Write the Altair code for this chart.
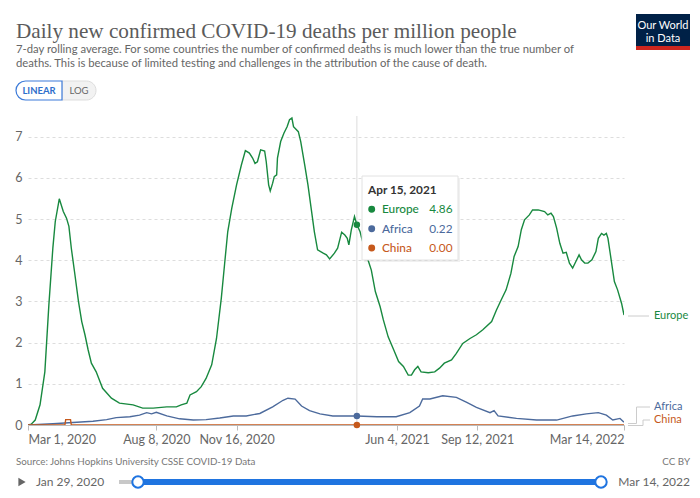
import altair as alt
import pandas as pd

# ---------------- data ----------------
series_names = ["Europe", "Africa", "China"]
series_colors = ["#18893f", "#4c6a9c", "#c6591c"]

europe_dates = ["2020-03-01", "2020-03-05", "2020-03-10", "2020-03-16", "2020-03-22", "2020-03-27", "2020-04-01", "2020-04-04", "2020-04-09", "2020-04-14", "2020-04-18", "2020-04-21", "2020-04-24", "2020-04-28", "2020-05-03", "2020-05-07", "2020-05-11", "2020-05-15", "2020-05-19", "2020-05-25", "2020-06-02", "2020-06-13", "2020-06-23", "2020-07-10", "2020-07-22", "2020-08-04", "2020-08-21", "2020-09-02", "2020-09-08", "2020-09-15", "2020-09-19", "2020-09-27", "2020-10-03", "2020-10-09", "2020-10-16", "2020-10-22", "2020-10-28", "2020-11-01", "2020-11-05", "2020-11-10", "2020-11-16", "2020-11-22", "2020-11-27", "2020-12-02", "2020-12-06", "2020-12-09", "2020-12-12", "2020-12-16", "2020-12-21", "2020-12-23", "2020-12-26", "2020-12-28", "2020-12-31", "2021-01-02", "2021-01-05", "2021-01-06", "2021-01-10", "2021-01-14", "2021-01-18", "2021-01-21", "2021-01-24", "2021-01-26", "2021-02-01", "2021-02-04", "2021-02-09", "2021-02-13", "2021-02-17", "2021-02-21", "2021-02-25", "2021-03-04", "2021-03-08", "2021-03-12", "2021-03-18", "2021-03-22", "2021-03-27", "2021-03-31", "2021-04-03", "2021-04-05", "2021-04-08", "2021-04-12", "2021-04-15", "2021-04-19", "2021-04-21", "2021-04-29", "2021-05-03", "2021-05-08", "2021-05-14", "2021-05-18", "2021-05-24", "2021-05-31", "2021-06-06", "2021-06-12", "2021-06-18", "2021-06-22", "2021-06-26", "2021-06-30", "2021-07-04", "2021-07-13", "2021-07-21", "2021-07-27", "2021-08-02", "2021-08-11", "2021-08-17", "2021-08-25", "2021-09-03", "2021-09-11", "2021-09-19", "2021-09-30", "2021-10-06", "2021-10-12", "2021-10-18", "2021-10-24", "2021-10-28", "2021-11-02", "2021-11-06", "2021-11-10", "2021-11-16", "2021-11-20", "2021-11-27", "2021-12-05", "2021-12-09", "2021-12-13", "2021-12-16", "2021-12-20", "2021-12-24", "2021-12-28", "2022-01-01", "2022-01-05", "2022-01-09", "2022-01-13", "2022-01-17", "2022-01-20", "2022-01-24", "2022-01-28", "2022-02-02", "2022-02-07", "2022-02-10", "2022-02-14", "2022-02-17", "2022-02-20", "2022-02-22", "2022-02-26", "2022-03-02", "2022-03-06", "2022-03-11", "2022-03-14"]
europe_values = [0.0, 0.02, 0.12, 0.49, 1.29, 2.91, 4.30, 4.94, 5.49, 5.18, 5.02, 4.82, 4.29, 3.72, 2.99, 2.51, 2.19, 1.82, 1.50, 1.29, 0.89, 0.65, 0.53, 0.49, 0.41, 0.41, 0.44, 0.44, 0.49, 0.53, 0.73, 0.81, 0.93, 1.13, 1.46, 2.10, 3.08, 3.89, 4.69, 5.26, 5.83, 6.31, 6.66, 6.60, 6.48, 6.35, 6.39, 6.68, 6.65, 6.39, 5.83, 5.68, 5.87, 6.03, 6.07, 6.48, 6.88, 7.08, 7.24, 7.41, 7.45, 7.24, 7.12, 6.88, 6.31, 5.83, 5.26, 4.69, 4.25, 4.17, 4.13, 4.03, 4.17, 4.29, 4.68, 4.61, 4.53, 4.37, 4.73, 5.06, 4.86, 4.69, 4.53, 4.00, 3.76, 3.24, 2.87, 2.55, 2.14, 1.82, 1.54, 1.42, 1.21, 1.21, 1.34, 1.42, 1.29, 1.27, 1.29, 1.38, 1.50, 1.58, 1.74, 1.98, 2.10, 2.19, 2.31, 2.51, 2.79, 3.04, 3.28, 3.68, 4.09, 4.33, 4.74, 4.98, 5.10, 5.22, 5.22, 5.18, 5.10, 5.14, 5.06, 4.78, 4.41, 4.17, 4.19, 3.93, 3.81, 3.97, 4.13, 4.01, 3.93, 3.93, 4.01, 4.21, 4.53, 4.65, 4.61, 4.65, 4.53, 4.01, 3.48, 3.28, 2.95, 2.67]

africa_dates = ["2020-03-01", "2020-04-01", "2020-04-26", "2020-05-21", "2020-06-07", "2020-06-19", "2020-07-06", "2020-07-18", "2020-07-27", "2020-08-02", "2020-08-08", "2020-08-21", "2020-09-06", "2020-09-23", "2020-10-09", "2020-10-26", "2020-11-12", "2020-11-28", "2020-12-15", "2020-12-31", "2021-01-13", "2021-01-19", "2021-01-28", "2021-02-05", "2021-02-15", "2021-02-28", "2021-03-16", "2021-04-15", "2021-05-10", "2021-06-03", "2021-06-20", "2021-07-02", "2021-07-06", "2021-07-15", "2021-07-31", "2021-08-17", "2021-08-30", "2021-09-11", "2021-09-28", "2021-10-03", "2021-10-08", "2021-10-31", "2021-11-25", "2021-12-20", "2022-01-09", "2022-01-26", "2022-02-10", "2022-02-20", "2022-02-28", "2022-03-09", "2022-03-14"]
africa_values = [0.0, 0.03, 0.06, 0.09, 0.13, 0.18, 0.20, 0.24, 0.30, 0.27, 0.31, 0.22, 0.15, 0.12, 0.13, 0.17, 0.22, 0.22, 0.28, 0.44, 0.60, 0.65, 0.63, 0.46, 0.35, 0.27, 0.22, 0.22, 0.20, 0.20, 0.30, 0.46, 0.63, 0.63, 0.71, 0.67, 0.55, 0.43, 0.30, 0.35, 0.22, 0.16, 0.12, 0.12, 0.22, 0.27, 0.30, 0.24, 0.12, 0.16, 0.07]

china_dates = ["2020-03-01", "2020-04-16", "2020-04-17", "2020-04-23", "2020-04-24", "2022-03-14"]
china_values = [0.0, 0.0, 0.13, 0.13, 0.0, 0.0]

tick_dates = [(2020, 3, 1), (2020, 8, 8), (2020, 11, 16), (2021, 6, 4), (2021, 9, 12), (2022, 3, 14)]
y_ticks = [0, 1, 2, 3, 4, 5, 6, 7]
domain_start = (2020, 3, 1)
domain_end = (2022, 3, 14)

hover_date = "2021-04-15"
hover_label = "Apr 15, 2021"
hover_values = [4.86, 0.22, 0.00]

title_text = "Daily new confirmed COVID-19 deaths per million people"
subtitle_lines = [
    "7-day rolling average. For some countries the number of confirmed deaths is much lower than the true number of",
    "deaths. This is because of limited testing and challenges in the attribution of the cause of death.",
]
source_text = "Source: Johns Hopkins University CSSE COVID-19 Data"
slider_start_label = "Jan 29, 2020"
slider_end_label = "Mar 14, 2022"

# ---------------- build tables ----------------
frames = []
for name, d, v in [("Europe", europe_dates, europe_values),
                   ("Africa", africa_dates, africa_values),
                   ("China", china_dates, china_values)]:
    frames.append(pd.DataFrame({"date": d, "value": v, "series": name}))
df = pd.concat(frames, ignore_index=True)
order_map = {n: i for i, n in enumerate(series_names)}
df["order"] = df["series"].map(order_map)

hover_df = pd.DataFrame({"date": [hover_date] * 3, "value": hover_values, "series": series_names})

def dt(t):
    return alt.DateTime(year=t[0], month=t[1], date=t[2], utc=True)

W, H = 596, 309
FONT = "Lato"

xscale = alt.Scale(type="utc", domain=[dt(domain_start), dt(domain_end)])
yscale = alt.Scale(domain=[0, 7.5], nice=False)
cscale = alt.Scale(domain=series_names, range=series_colors)

x_axis = alt.Axis(values=[dt(t) for t in tick_dates],
                  labelExpr="utcFormat(datum.value, '%b %-d, %Y')",
                  labelFlush=True, labelOverlap=False, grid=False,
                  domain=True, domainColor="#bbbbbb", tickColor="#bbbbbb",
                  tickSize=5, labelPadding=3, labelFontSize=12.5,
                  labelColor="#666666", labelFont=FONT, title=None)
y_axis = alt.Axis(values=y_ticks, grid=True, gridDash=[3, 3], gridColor="#dddddd",
                  domain=False, ticks=False, labelFontSize=12.5, labelColor="#666666",
                  labelFont=FONT, labelPadding=6, title=None)

hover_rule = alt.Chart(pd.DataFrame({"date": [hover_date]})).mark_rule(
    color="#dcdcdc", strokeWidth=1).encode(x=alt.X("date:T", scale=xscale, axis=x_axis))

lines = alt.Chart(df).mark_line(strokeWidth=1.4, clip=True).encode(
    x=alt.X("date:T", scale=xscale, axis=x_axis),
    y=alt.Y("value:Q", scale=yscale, axis=y_axis),
    color=alt.Color("series:N", scale=cscale, legend=None),
    detail="series:N",
    order="order:Q",
)

hover_pts = alt.Chart(hover_df).mark_circle(size=42, opacity=1).encode(
    x=alt.X("date:T", scale=xscale),
    y=alt.Y("value:Q", scale=yscale),
    color=alt.Color("series:N", scale=cscale, legend=None),
)

one = alt.Data(values=[{}])

def text(s, x, y, size=12, color="#666666", weight="normal", align="left",
         baseline="alphabetic", font=FONT):
    return alt.Chart(one).mark_text(text=s, fontSize=size, color=color, fontWeight=weight,
                                    align=align, baseline=baseline, font=font).encode(
        x=alt.value(x), y=alt.value(y))

def rect(x, x2, y, y2, fill, stroke=None, sw=0, **kw):
    props = dict(fill=fill, strokeWidth=sw)
    if stroke:
        props["stroke"] = stroke
    props.update(kw)
    return alt.Chart(one).mark_rect(**props).encode(
        x=alt.value(x), x2=alt.value(x2), y=alt.value(y), y2=alt.value(y2))

def rule(x, x2, y, y2, color="#cccccc", sw=1, **kw):
    return alt.Chart(one).mark_rule(color=color, strokeWidth=sw, **kw).encode(
        x=alt.value(x), x2=alt.value(x2), y=alt.value(y), y2=alt.value(y2))

def dot(x, y, size, fill, stroke=None, sw=0, shape="circle"):
    props = dict(shape=shape, filled=True, fill=fill, size=size, opacity=1, strokeWidth=sw)
    if stroke:
        props["stroke"] = stroke
    return alt.Chart(one).mark_point(**props).encode(x=alt.value(x), y=alt.value(y))

# coordinates relative to the plot origin (plot left = page x 28, top = page y 116)
deco = [
    # header
    text(title_text, -12, -78, size=21.2, color="#5b5b5b", font="Liberation Serif"),
    text(subtitle_lines[0], -12, -63, size=11.3, color="#666666"),
    text(subtitle_lines[1], -12, -49, size=11.3, color="#666666"),
    # logo
    rect(608, 662, -102, -66, "#002147"),
    rect(608, 662, -70, -66, "#ce261e"),
    text("Our World", 635, -90, size=11, color="#ffffff", align="center", baseline="middle"),
    text("in Data", 635, -77, size=11, color="#ffffff", align="center", baseline="middle"),
    # linear / log buttons
    rect(34, 68, -35, -16, "#f2f2f2", stroke="#dddddd", sw=1,
         cornerRadiusTopRight=10, cornerRadiusBottomRight=10),
    rect(-12, 34, -35, -16, "#ffffff", stroke="#3d7bd9", sw=1.2,
         cornerRadiusTopLeft=10, cornerRadiusBottomLeft=10),
    text("LINEAR", 11, -25.5, size=9.5, color="#2f6fcb", weight="bold", align="center", baseline="middle"),
    text("LOG", 51, -25.5, size=9.5, color="#666666", align="center", baseline="middle"),
]

tooltip = [
    rect(336, 432, 62, 146, "#000000", opacity=0.06),
    rect(334, 430, 60, 144, "#ffffff", stroke="#e2e2e2", sw=1),
    text(hover_label, 340, 78, size=11.8, color="#333333", weight="bold"),
]
row_y = [93.3, 112.7, 132]
for name, col, val, ry in zip(series_names, series_colors, hover_values, row_y):
    tooltip += [
        dot(343.7, ry, 48, col),
        text(name, 354, ry, size=11.8, color=col, baseline="middle", weight=500),
        text(f"{val:.2f}", 424.5, ry, size=11.8, color=col, align="right", baseline="middle"),
    ]

labels = [
    rule(600, 621, 200, 200),
    text("Europe", 626, 200, size=11, color=series_colors[0], baseline="middle"),
    rule(600, 608.5, 307.5, 307.5),
    rule(608.5, 608.5, 291, 307.5),
    rule(608.5, 622, 291, 291),
    text("Africa", 626, 291, size=11, color=series_colors[1], baseline="middle"),
    rule(600, 615, 309.5, 309.5),
    rule(615, 615, 304, 309.5),
    rule(615, 622, 304, 304),
    text("China", 626, 304, size=11, color=series_colors[2], baseline="middle"),
]

SY = 366
footer = [
    text(source_text, -12, 349, size=9.8, color="#777777"),
    text("CC BY", 662, 349, size=9.8, color="#777777", align="right"),
    dot(-6, SY, 70, "#666666", shape="triangle-right"),
    text(slider_start_label, 8, SY, size=12, color="#666666", baseline="middle"),
    rule(91, 110, SY, SY, color="#c8c8c8", sw=4),
    rule(110, 573, SY, SY, color="#1f74e0", sw=6),
    dot(110, SY, 130, "#ffffff", stroke="#1f74e0", sw=2),
    dot(573, SY, 130, "#ffffff", stroke="#1f74e0", sw=2),
    text(slider_end_label, 662, SY, size=12, color="#666666", align="right", baseline="middle"),
]

chart = alt.layer(hover_rule, lines, hover_pts, *deco, *tooltip, *labels, *footer).properties(
    width=W, height=H,
    autosize=alt.AutoSizeParams(type="none"),
    padding={"left": 20, "top": 108, "right": 68, "bottom": 65},
    background="#ffffff",
).configure(font=FONT).configure_view(stroke="transparent", strokeWidth=0)

chart.save("out.html", embed_options={"renderer": "svg", "actions": False})
